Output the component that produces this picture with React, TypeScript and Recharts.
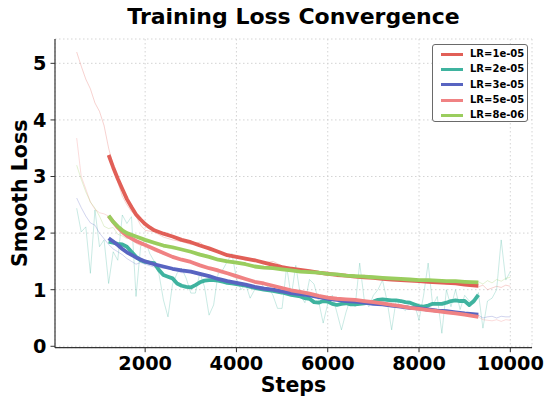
import React from 'react';
import { LineChart, Line, XAxis, YAxis, CartesianGrid, Legend } from 'recharts';

type P = { step: number; loss: number };
const mk = (pairs: number[][]): P[] => pairs.map(([step, loss]) => ({ step, loss }));

// ---------- raw (faint) series ----------
const RAW_1E5 = mk([
  [500, 5.2], [600, 4.95], [700, 4.72], [800, 4.55], [900, 4.3], [1000, 4.15], [1100, 3.9], [1200, 3.5],
  [1300, 3.2], [1400, 2.9], [1500, 2.65], [1600, 2.5], [1700, 2.38], [1800, 2.3], [1900, 2.14], [2000, 2.05],
  [2200, 2.02], [2400, 1.93], [2600, 1.88], [2800, 1.85], [3000, 1.8], [3200, 1.84], [3400, 1.7], [3600, 1.68],
  [3800, 1.6], [4000, 1.58], [4200, 1.52], [4400, 1.55], [4600, 1.47], [4800, 1.5], [5000, 1.42], [5200, 1.4],
  [5400, 1.36], [5600, 1.33], [5800, 1.3], [6000, 1.32], [6200, 1.26], [6400, 1.27], [6600, 1.24], [6800, 1.26],
  [7000, 1.2], [7200, 1.22], [7400, 1.17], [7600, 1.2], [7800, 1.16], [8000, 1.17], [8200, 1.13], [8400, 1.15],
  [8600, 1.1], [8800, 1.12], [9000, 1.08], [9200, 1.1], [9300, 1.05], [9400, 1.08], [9500, 1.0], [9600, 1.03],
  [9700, 1.06], [9800, 1.04], [9900, 1.08], [10000, 1.06],
]);

const RAW_2E5 = mk([
  [500, 2.44], [600, 2.02], [700, 2.11], [800, 1.29], [900, 2.41], [1000, 1.76], [1100, 1.88], [1200, 1.11],
  [1300, 1.67], [1400, 1.52], [1500, 2.32], [1600, 2.17], [1700, 2.29], [1800, 0.88], [1900, 1.76], [2000, 1.88],
  [2100, 1.64], [2200, 1.5], [2300, 1.29], [2400, 0.82], [2500, 0.52], [2600, 1.1], [2700, 1.29], [2800, 1.38],
  [2900, 1.2], [3000, 0.94], [3100, 0.94], [3200, 1.3], [3300, 1.05], [3400, 0.55], [3500, 0.73], [3600, 1.29],
  [3700, 1.35], [3800, 1.5], [3900, 1.64], [4000, 1.2], [4100, 1.0], [4200, 1.1], [4300, 0.85], [4400, 1.0],
  [4500, 1.0], [4600, 1.1], [4700, 1.05], [4800, 0.9], [4900, 0.67], [5000, 0.67], [5100, 1.41], [5200, 0.88],
  [5300, 1.43], [5400, 0.9], [5500, 0.77], [5600, 1.18], [5700, 1.1], [5800, 0.8], [5900, 0.41], [6000, 0.75],
  [6100, 0.9], [6200, 0.6], [6300, 0.29], [6400, 0.6], [6500, 0.85], [6600, 0.7], [6700, 1.47], [6800, 0.82],
  [6900, 0.7], [7000, 0.9], [7100, 1.0], [7200, 1.17], [7300, 0.8], [7400, 0.29], [7500, 0.82], [7600, 0.7],
  [7700, 0.63], [7800, 0.8], [7900, 0.75], [8000, 0.46], [8100, 0.9], [8200, 1.47], [8300, 0.72], [8400, 0.88],
  [8500, 0.23], [8600, 1.0], [8700, 0.7], [8800, 1.0], [8900, 0.65], [9000, 0.9], [9100, 0.8], [9200, 0.75],
  [9300, 0.95], [9400, 0.32], [9500, 0.8], [9600, 0.85], [9700, 1.0], [9800, 1.88], [9900, 1.17], [10000, 1.32],
]);

const RAW_3E5 = mk([
  [500, 2.62], [600, 2.45], [700, 2.3], [800, 2.18], [900, 2.14], [1000, 2.0], [1100, 1.9], [1200, 1.8],
  [1300, 1.72], [1400, 1.67], [1500, 1.62], [1600, 1.55], [1700, 1.5], [1800, 1.45], [1900, 1.48], [2000, 1.45],
  [2200, 1.4], [2400, 1.38], [2600, 1.36], [2800, 1.3], [3000, 1.3], [3200, 1.25], [3400, 1.22], [3600, 1.18],
  [3800, 1.15], [4000, 1.12], [4200, 1.1], [4400, 1.06], [4600, 1.05], [4800, 1.0], [5000, 0.98], [5200, 0.95],
  [5400, 0.92], [5600, 0.9], [5800, 0.88], [6000, 0.86], [6200, 0.82], [6400, 0.8], [6600, 0.78], [6800, 0.76],
  [7000, 0.74], [7200, 0.72], [7400, 0.7], [7600, 0.68], [7800, 0.66], [8000, 0.64], [8200, 0.62], [8400, 0.61],
  [8600, 0.6], [8800, 0.58], [9000, 0.57], [9200, 0.56], [9300, 0.55], [9400, 0.5], [9500, 0.52], [9600, 0.53],
  [9700, 0.5], [9800, 0.53], [9900, 0.52], [10000, 0.52],
]);

const RAW_5E5 = mk([
  [500, 3.68], [600, 3.0], [700, 2.78], [800, 2.55], [900, 2.42], [1000, 2.36], [1100, 2.34], [1200, 2.3],
  [1300, 2.2], [1400, 2.1], [1500, 2.0], [1600, 1.95], [1700, 1.9], [1800, 1.82], [1900, 1.78], [2000, 1.8],
  [2200, 1.68], [2400, 1.63], [2600, 1.6], [2800, 1.52], [3000, 1.5], [3200, 1.42], [3400, 1.38], [3600, 1.3],
  [3800, 1.27], [4000, 1.2], [4200, 1.18], [4400, 1.15], [4600, 1.1], [4800, 1.08], [5000, 1.03], [5200, 1.0],
  [5400, 0.96], [5600, 0.95], [5800, 0.9], [6000, 0.88], [6200, 0.84], [6400, 0.83], [6600, 0.8], [6800, 0.82],
  [7000, 0.76], [7200, 0.75], [7400, 0.72], [7600, 0.7], [7800, 0.66], [8000, 0.65], [8200, 0.62], [8400, 0.6],
  [8600, 0.6], [8800, 0.57], [9000, 0.55], [9200, 0.53], [9300, 0.52], [9400, 0.47], [9500, 0.46], [9600, 0.45],
  [9700, 0.47], [9800, 0.44], [9900, 0.47], [10000, 0.46],
]);

const RAW_8E6 = mk([
  [500, 3.2], [600, 2.95], [700, 2.73], [800, 2.55], [900, 2.44], [1000, 2.3], [1100, 2.12], [1200, 2.08],
  [1300, 2.1], [1400, 1.98], [1500, 1.95], [1600, 1.9], [1700, 1.92], [1800, 1.85], [1900, 1.82], [2000, 1.86],
  [2200, 1.8], [2400, 1.76], [2600, 1.72], [2800, 1.72], [3000, 1.68], [3200, 1.65], [3400, 1.6], [3600, 1.55],
  [3800, 1.52], [4000, 1.5], [4200, 1.46], [4400, 1.43], [4600, 1.4], [4800, 1.4], [5000, 1.36], [5200, 1.35],
  [5400, 1.33], [5600, 1.32], [5800, 1.3], [6000, 1.28], [6200, 1.27], [6400, 1.25], [6600, 1.24], [6800, 1.23],
  [7000, 1.22], [7200, 1.21], [7400, 1.19], [7600, 1.2], [7800, 1.18], [8000, 1.17], [8200, 1.16], [8400, 1.17],
  [8600, 1.15], [8800, 1.14], [9000, 1.14], [9200, 1.13], [9300, 1.14], [9400, 1.1], [9500, 1.16], [9600, 1.12],
  [9700, 1.18], [9800, 1.15], [9900, 1.2], [10000, 1.22],
]);

// ---------- smoothed series ----------
const SMOOTH_1E5 = mk([
  [1200, 3.38], [1300, 3.16], [1400, 2.96], [1500, 2.78], [1600, 2.6], [1700, 2.46], [1800, 2.33], [1900, 2.24],
  [2000, 2.16], [2100, 2.1], [2200, 2.05], [2400, 1.99], [2600, 1.94], [2800, 1.88], [3000, 1.84], [3200, 1.78],
  [3400, 1.73], [3600, 1.67], [3800, 1.61], [4000, 1.58], [4200, 1.55], [4400, 1.52], [4600, 1.48], [4800, 1.44],
  [5000, 1.4], [5200, 1.37], [5400, 1.35], [5600, 1.33], [5800, 1.3], [6000, 1.28], [6200, 1.26], [6400, 1.25],
  [6600, 1.23], [6800, 1.22], [7000, 1.21], [7200, 1.19], [7400, 1.18], [7600, 1.17], [7800, 1.16], [8000, 1.15],
  [8200, 1.14], [8400, 1.13], [8600, 1.12], [8800, 1.11], [9000, 1.09], [9300, 1.07],
]);

const SMOOTH_2E5 = mk([
  [1200, 1.85], [1300, 1.83], [1400, 1.81], [1500, 1.8], [1600, 1.76], [1700, 1.67], [1800, 1.58], [1900, 1.52],
  [2000, 1.49], [2100, 1.48], [2200, 1.47], [2300, 1.35], [2400, 1.26], [2500, 1.23], [2600, 1.2], [2700, 1.11],
  [2800, 1.07], [2900, 1.05], [3000, 1.04], [3100, 1.08], [3200, 1.13], [3300, 1.16], [3400, 1.17], [3500, 1.17],
  [3600, 1.16], [3700, 1.14], [3800, 1.12], [3900, 1.11], [4000, 1.1], [4200, 1.07], [4400, 1.03], [4600, 1.0],
  [4800, 0.98], [5000, 0.95], [5200, 0.91], [5400, 0.88], [5500, 0.85], [5600, 0.84], [5700, 0.78], [5800, 0.77],
  [5900, 0.8], [6000, 0.79], [6100, 0.75], [6200, 0.73], [6300, 0.75], [6400, 0.76], [6500, 0.74], [6600, 0.74],
  [6700, 0.75], [6800, 0.76], [6900, 0.77], [7000, 0.79], [7100, 0.82], [7200, 0.83], [7300, 0.82], [7400, 0.81],
  [7500, 0.81], [7600, 0.8], [7700, 0.78], [7800, 0.77], [7900, 0.74], [8000, 0.71], [8100, 0.7], [8200, 0.72],
  [8300, 0.75], [8400, 0.75], [8500, 0.75], [8600, 0.77], [8700, 0.8], [8800, 0.81], [8900, 0.8], [9000, 0.8],
  [9100, 0.73], [9200, 0.8], [9300, 0.91],
]);

const SMOOTH_3E5 = mk([
  [1200, 1.91], [1300, 1.85], [1400, 1.79], [1500, 1.72], [1600, 1.66], [1800, 1.57], [2000, 1.5], [2200, 1.45],
  [2400, 1.41], [2600, 1.37], [2800, 1.34], [3000, 1.32], [3200, 1.28], [3400, 1.24], [3600, 1.19], [3800, 1.15],
  [4000, 1.12], [4200, 1.09], [4400, 1.05], [4600, 1.02], [4800, 1.0], [5000, 0.97], [5200, 0.94], [5400, 0.92],
  [5600, 0.9], [5800, 0.87], [6000, 0.84], [6200, 0.82], [6400, 0.8], [6600, 0.79], [6800, 0.77], [7000, 0.75],
  [7200, 0.74], [7400, 0.72], [7600, 0.7], [7800, 0.68], [8000, 0.67], [8200, 0.65], [8400, 0.63], [8600, 0.62],
  [8800, 0.6], [9000, 0.58], [9300, 0.56],
]);

const SMOOTH_5E5 = mk([
  [1200, 2.3], [1300, 2.2], [1400, 2.1], [1500, 2.02], [1600, 1.95], [1800, 1.86], [2000, 1.79], [2200, 1.72],
  [2400, 1.65], [2600, 1.58], [2800, 1.53], [3000, 1.49], [3200, 1.43], [3400, 1.38], [3600, 1.34], [3800, 1.29],
  [4000, 1.24], [4200, 1.19], [4400, 1.14], [4600, 1.11], [4800, 1.07], [5000, 1.03], [5200, 0.99], [5400, 0.96],
  [5600, 0.93], [5800, 0.89], [6000, 0.86], [6200, 0.84], [6400, 0.83], [6600, 0.82], [6800, 0.8], [7000, 0.78],
  [7200, 0.76], [7400, 0.73], [7600, 0.71], [7800, 0.68], [8000, 0.66], [8200, 0.64], [8400, 0.62], [8600, 0.6],
  [8800, 0.58], [9000, 0.56], [9300, 0.52],
]);

const SMOOTH_8E6 = mk([
  [1200, 2.31], [1300, 2.2], [1400, 2.12], [1500, 2.05], [1600, 2.0], [1800, 1.94], [2000, 1.88], [2200, 1.83],
  [2400, 1.78], [2600, 1.75], [2800, 1.71], [3000, 1.67], [3200, 1.62], [3400, 1.58], [3600, 1.53], [3800, 1.5],
  [4000, 1.48], [4200, 1.45], [4400, 1.41], [4600, 1.39], [4800, 1.38], [5000, 1.36], [5200, 1.34], [5400, 1.32],
  [5600, 1.31], [5800, 1.3], [6000, 1.28], [6200, 1.27], [6400, 1.25], [6600, 1.24], [6800, 1.23], [7000, 1.22],
  [7200, 1.21], [7400, 1.2], [7600, 1.19], [7800, 1.18], [8000, 1.17], [8200, 1.17], [8400, 1.16], [8600, 1.15],
  [8800, 1.15], [9000, 1.14], [9300, 1.13],
]);

const X_TICKS = [2000, 4000, 6000, 8000, 10000];
const Y_TICKS = [0, 1, 2, 3, 4, 5];

const SERIES = [
  { name: 'LR=1e-05', color: '#e15f57', raw: RAW_1E5, smooth: SMOOTH_1E5 },
  { name: 'LR=2e-05', color: '#3fb39f', raw: RAW_2E5, smooth: SMOOTH_2E5 },
  { name: 'LR=3e-05', color: '#5864c1', raw: RAW_3E5, smooth: SMOOTH_3E5 },
  { name: 'LR=5e-05', color: '#f08283', raw: RAW_5E5, smooth: SMOOTH_5E5 },
  { name: 'LR=8e-06', color: '#9acd5e', raw: RAW_8E6, smooth: SMOOTH_8E6 },
];

const FONT = '"DejaVu Sans", sans-serif';
const tickStyle = { fontFamily: FONT, fontWeight: 'bold' as const, fontSize: 19.3, fill: '#000' };
const labelStyle = { fontFamily: FONT, fontWeight: 'bold' as const, fontSize: 20.5, fill: '#000' };

const LegendBox = () => (
  <div
    style={{
      width: 96,
      height: 78,
      border: '1px solid #6a6a6a',
      borderRadius: 3,
      background: 'rgba(255,255,255,0.85)',
      boxSizing: 'border-box',
      paddingTop: 1.5,
    }}
  >
    {SERIES.map((s) => (
      <div key={s.name} style={{ height: 15.3, display: 'flex', alignItems: 'center' }}>
        <div style={{ width: 22, height: 3, background: s.color, marginLeft: 8, marginRight: 7 }} />
        <span style={{ fontFamily: FONT, fontWeight: 'bold', fontSize: 10, color: '#000', lineHeight: '10px' }}>
          {s.name}
        </span>
      </div>
    ))}
  </div>
);

export default function App() {
  return (
    <div style={{ position: 'absolute', left: 0, top: 0, width: 546, height: 400, background: '#fff' }}>
      <div
        style={{
          position: 'absolute',
          left: 55,
          width: 477,
          top: 6.4,
          textAlign: 'center',
          fontFamily: FONT,
          fontWeight: 'bold',
          fontSize: 22,
          lineHeight: '22px',
          color: '#000',
          whiteSpace: 'nowrap',
        }}
      >
        Training Loss Convergence
      </div>
      <LineChart width={546} height={400} margin={{ top: 39, right: 14, bottom: 0, left: 0 }}>
        <CartesianGrid stroke="#cfcfcf" strokeDasharray="1.5 2.5" strokeWidth={0.9} />
        <XAxis
          type="number"
          dataKey="step"
          domain={[25, 10475]}
          ticks={X_TICKS}
          allowDataOverflow
          height={52.3}
          tick={tickStyle}
          tickSize={4.5}
          tickMargin={4}
          axisLine={{ stroke: '#333', strokeWidth: 1.2 }}
          tickLine={{ stroke: '#333', strokeWidth: 1 }}
          label={(props: any) => {
            const vb = props.viewBox;
            return (
              <text x={vb.x + vb.width / 2} y={392} textAnchor="middle" style={labelStyle}>
                Steps
              </text>
            );
          }}
        />
        <XAxis
          xAxisId="top"
          orientation="top"
          type="number"
          dataKey="step"
          domain={[25, 10475]}
          height={0}
          tick={false}
          tickLine={false}
          axisLine={{ stroke: '#8c8c8c', strokeWidth: 1.5 }}
        />
        <YAxis
          type="number"
          domain={[-0.025, 5.43]}
          ticks={Y_TICKS}
          allowDataOverflow
          width={55}
          tick={tickStyle}
          tickSize={4.5}
          tickMargin={4}
          axisLine={{ stroke: '#333', strokeWidth: 1.2 }}
          tickLine={{ stroke: '#333', strokeWidth: 1 }}
          label={(props: any) => {
            const vb = props.viewBox;
            const cy = vb.y + vb.height / 2;
            return (
              <text x={27} y={cy} transform={`rotate(-90, 27, ${cy})`} textAnchor="middle" style={labelStyle}>
                Smooth Loss
              </text>
            );
          }}
        />
        <YAxis
          yAxisId="right"
          orientation="right"
          type="number"
          domain={[-0.025, 5.43]}
          width={0}
          tick={false}
          tickLine={false}
          axisLine={{ stroke: '#555', strokeWidth: 1.2 }}
        />
        {SERIES.map((s) => (
          <Line
            key={`raw-${s.name}`}
            data={s.raw}
            dataKey="loss"
            type="linear"
            stroke={s.color}
            strokeOpacity={0.28}
            strokeWidth={1}
            dot={false}
            isAnimationActive={false}
            legendType="none"
          />
        ))}
        {SERIES.map((s) => (
          <Line
            key={`smooth-${s.name}`}
            data={s.smooth}
            dataKey="loss"
            name={s.name}
            type="linear"
            stroke={s.color}
            strokeWidth={3.8}
            strokeLinejoin="round"
            dot={false}
            isAnimationActive={false}
          />
        ))}
        <Legend
          layout="horizontal"
          verticalAlign="middle"
          align="center"
          content={() => <LegendBox />}
          wrapperStyle={{ position: 'absolute', left: 432, top: 44, width: 96, height: 78 }}
        />
      </LineChart>
    </div>
  );
}
